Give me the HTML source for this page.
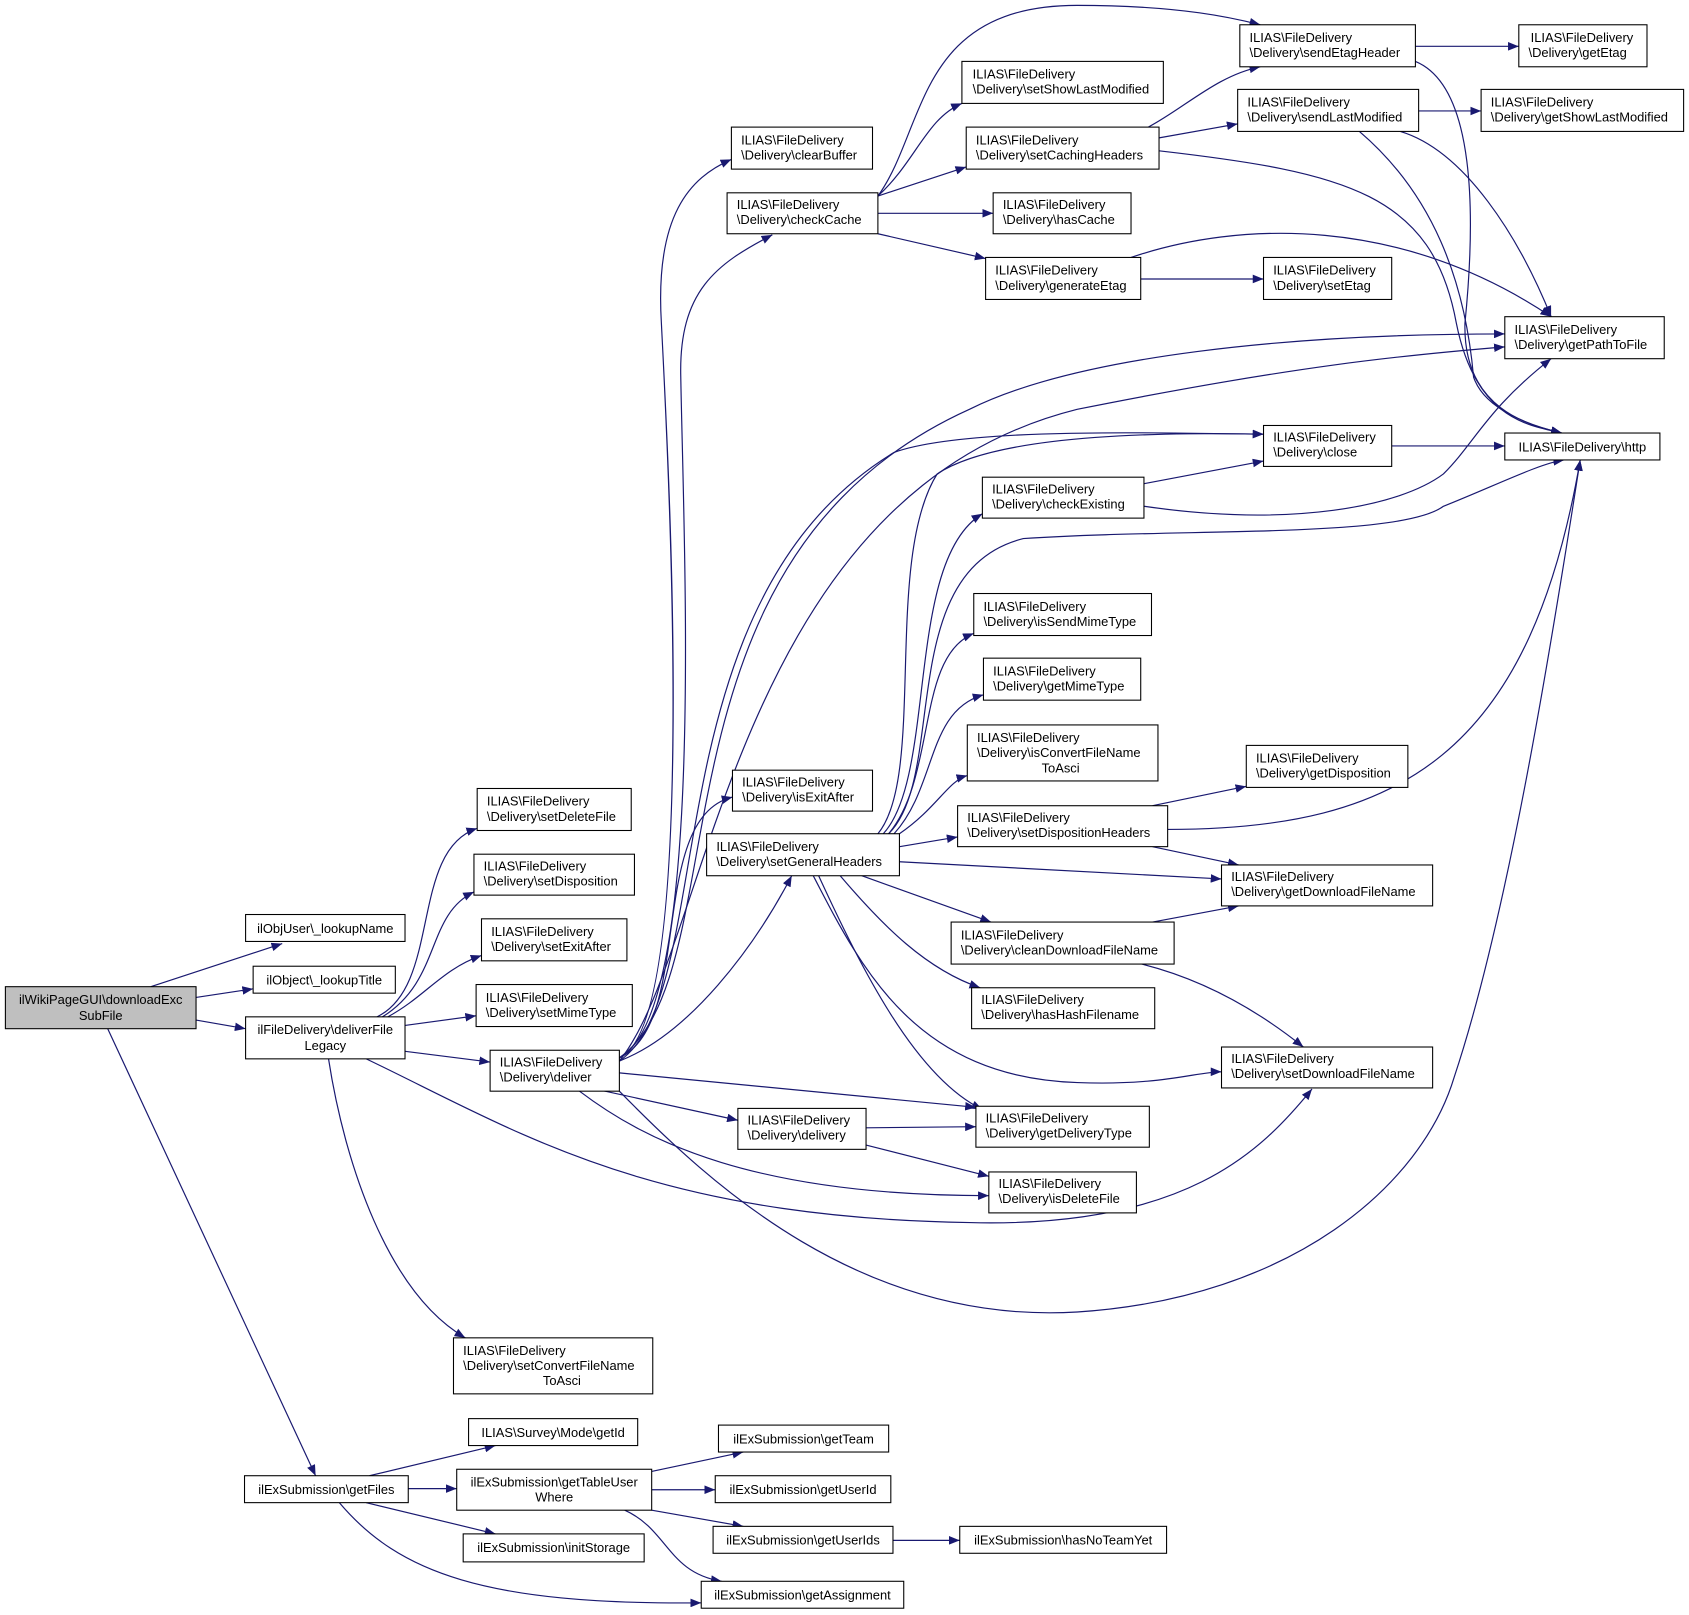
<!DOCTYPE html>
<html><head><meta charset="utf-8"><style>
html,body{margin:0;padding:0;background:#fff;}
svg{display:block;}
text{font-family:"Liberation Sans",Arial,sans-serif;font-size:12px;fill:#000;}
.n{fill:#fff;stroke:#000;stroke-width:1;}
.e{fill:none;stroke:#191970;stroke-width:1.1;marker-end:url(#a);}
</style></head><body>
<svg width="1689" height="1615" viewBox="0 0 1568 1499.3" xmlns="http://www.w3.org/2000/svg">
<defs><marker id="a" markerUnits="userSpaceOnUse" markerWidth="11" markerHeight="8" refX="10" refY="4" orient="auto"><polygon points="0,0 10,4 0,8" fill="#191970"/></marker></defs>
<rect width="1568" height="1500" fill="#fff"/>
<g>
<path class="e" d="M140,916 L262,876"/>
<path class="e" d="M182,926 L235,918"/>
<path class="e" d="M182,947 L228,955"/>
<path class="e" d="M100,955 L293,1370"/>
<path class="e" d="M350,944 C410,915 380,790 443,769"/>
<path class="e" d="M355,944 C410,910 395,850 440,828"/>
<path class="e" d="M360,944 C395,925 410,900 447,887"/>
<path class="e" d="M376,952 L442,943"/>
<path class="e" d="M376,976 L455,986"/>
<path class="e" d="M305,983 C320,1080 360,1200 432,1242"/>
<path class="e" d="M340,983 C480,1050 600,1130 900,1135 C1100,1140 1170,1070 1218,1011"/>
<path class="e" d="M575,982 C650,950 620,420 614,300 C608,200 640,165 679,148"/>
<path class="e" d="M575,982 C655,940 635,520 632,350 C630,270 665,245 717,218"/>
<path class="e" d="M575,982 C690,900 590,520 900,380 C1000,330 1200,310 1397,310"/>
<path class="e" d="M575,985 C660,880 680,460 1000,380 C1200,340 1300,330 1397,322"/>
<path class="e" d="M575,985 C670,920 600,560 830,420 C900,395 1100,403 1173,403"/>
<path class="e" d="M575,982 C645,950 600,760 680,740"/>
<path class="e" d="M575,985 C640,960 700,880 735,813"/>
<path class="e" d="M575,996 L906,1028"/>
<path class="e" d="M548,1010 L685,1040"/>
<path class="e" d="M538,1013 C600,1060 700,1110 918,1110"/>
<path class="e" d="M575,1013 C660,1100 800,1230 1000,1218 C1200,1205 1320,1100 1350,1000 C1400,850 1440,600 1467,427"/>
<path class="e" d="M804,1047 L906,1046"/>
<path class="e" d="M804,1063 L918,1092"/>
<path class="e" d="M815,774 C860,720 820,520 870,440 C930,400 1100,402 1173,403"/>
<path class="e" d="M820,774 C870,720 840,520 912,477"/>
<path class="e" d="M825,774 C880,720 830,530 950,500 C1100,490 1300,500 1340,470 C1390,450 1430,430 1452,427"/>
<path class="e" d="M825,774 C870,720 850,610 904,588"/>
<path class="e" d="M830,774 C870,730 860,660 913,645"/>
<path class="e" d="M835,774 C870,750 880,725 898,720"/>
<path class="e" d="M835,786 L889,777"/>
<path class="e" d="M835,800 L1134,816"/>
<path class="e" d="M800,813 L920,856"/>
<path class="e" d="M780,813 C820,860 860,900 910,917"/>
<path class="e" d="M760,813 C800,900 850,1000 912,1030"/>
<path class="e" d="M755,813 C800,900 850,1000 1000,1005 C1080,1008 1110,995 1134,995"/>
<path class="e" d="M1070,748 L1157,730"/>
<path class="e" d="M1070,786 L1150,803"/>
<path class="e" d="M1084,770 C1300,770 1420,700 1467,427"/>
<path class="e" d="M1070,856 L1150,841"/>
<path class="e" d="M1060,895 C1120,910 1170,940 1210,972"/>
<path class="e" d="M1062,449 L1173,428"/>
<path class="e" d="M1062,470 C1200,490 1300,470 1340,440 C1370,410 1380,380 1440,333"/>
<path class="e" d="M1292,414 L1397,414"/>
<path class="e" d="M815,182 C850,150 860,110 893,96"/>
<path class="e" d="M815,182 L897,155"/>
<path class="e" d="M815,198 L922,198"/>
<path class="e" d="M815,217 L915,240"/>
<path class="e" d="M815,182 C860,120 850,5 1000,5 C1100,5 1150,18 1170,23"/>
<path class="e" d="M1059,259 L1173,259"/>
<path class="e" d="M1050,239 C1150,205 1300,200 1440,294"/>
<path class="e" d="M1066,118 C1100,100 1130,70 1170,62"/>
<path class="e" d="M1076,128 L1149,115"/>
<path class="e" d="M1076,140 C1250,160 1330,180 1352,300 C1370,390 1420,395 1450,402"/>
<path class="e" d="M1314,43 L1410,43"/>
<path class="e" d="M1314,57 C1370,80 1370,200 1360,300 C1358,380 1420,395 1450,402"/>
<path class="e" d="M1317,103 L1375,103"/>
<path class="e" d="M1300,122 C1360,140 1410,220 1440,294"/>
<path class="e" d="M1262,122 C1330,180 1360,260 1368,350 C1378,380 1420,395 1450,402"/>
<path class="e" d="M343,1370 L460,1342"/>
<path class="e" d="M379,1382 L424,1382"/>
<path class="e" d="M340,1395 L460,1424"/>
<path class="e" d="M315,1395 C370,1460 450,1490 651,1488"/>
<path class="e" d="M605,1366 L690,1348"/>
<path class="e" d="M605,1383 L664,1383"/>
<path class="e" d="M605,1402 L690,1417"/>
<path class="e" d="M580,1402 C620,1420 620,1460 670,1468"/>
<path class="e" d="M829,1430 L891,1430"/>
</g>
<g>
<rect x="5" y="916" width="177" height="39" fill="#bfbfbf" stroke="#000"/>
<text x="93.5" y="932" text-anchor="middle">ilWikiPageGUI\downloadExc</text><text x="93.5" y="947" text-anchor="middle">SubFile</text>
<rect class="n" x="228" y="849" width="148" height="25"/><text x="302" y="866" text-anchor="middle">ilObjUser\_lookupName</text>
<rect class="n" x="235" y="897" width="132" height="25"/><text x="301" y="914" text-anchor="middle">ilObject\_lookupTitle</text>
<rect class="n" x="228" y="944" width="148" height="39"/><text x="302" y="960" text-anchor="middle">ilFileDelivery\deliverFile</text><text x="302" y="975" text-anchor="middle">Legacy</text>
<rect class="n" x="227" y="1370" width="152" height="25"/><text x="303" y="1387" text-anchor="middle">ilExSubmission\getFiles</text>
<rect class="n" x="435" y="1317" width="157" height="25"/><text x="513.5" y="1334" text-anchor="middle">ILIAS\Survey\Mode\getId</text>
<rect class="n" x="424" y="1364" width="181" height="38"/><text x="514.5" y="1380" text-anchor="middle">ilExSubmission\getTableUser</text><text x="514.5" y="1394" text-anchor="middle">Where</text>
<rect class="n" x="430" y="1424" width="168" height="26"/><text x="514" y="1441" text-anchor="middle">ilExSubmission\initStorage</text>
<rect class="n" x="651" y="1468" width="188" height="25"/><text x="745" y="1485" text-anchor="middle">ilExSubmission\getAssignment</text>
<rect class="n" x="667" y="1323" width="158" height="25"/><text x="746" y="1340" text-anchor="middle">ilExSubmission\getTeam</text>
<rect class="n" x="664" y="1370" width="163" height="25"/><text x="745.5" y="1387" text-anchor="middle">ilExSubmission\getUserId</text>
<rect class="n" x="662" y="1417" width="167" height="25"/><text x="745.5" y="1434" text-anchor="middle">ilExSubmission\getUserIds</text>
<rect class="n" x="891" y="1417" width="192" height="25"/><text x="987" y="1434" text-anchor="middle">ilExSubmission\hasNoTeamYet</text>
<rect class="n" x="1397" y="402" width="144" height="25"/><text x="1469" y="419" text-anchor="middle">ILIAS\FileDelivery\http</text>
</g>
<g>
<rect class="n" x="443" y="732" width="143" height="39"/><text x="452" y="748">ILIAS\FileDelivery</text><text x="452" y="762">\Delivery\setDeleteFile</text>
<rect class="n" x="440" y="793" width="149" height="38"/><text x="449" y="808">ILIAS\FileDelivery</text><text x="449" y="822">\Delivery\setDisposition</text>
<rect class="n" x="447" y="853" width="135" height="39"/><text x="456" y="869">ILIAS\FileDelivery</text><text x="456" y="883">\Delivery\setExitAfter</text>
<rect class="n" x="442" y="914" width="145" height="39"/><text x="451" y="930">ILIAS\FileDelivery</text><text x="451" y="944">\Delivery\setMimeType</text>
<rect class="n" x="455" y="975" width="120" height="38"/><text x="464" y="990">ILIAS\FileDelivery</text><text x="464" y="1004">\Delivery\deliver</text>
<rect class="n" x="421" y="1242" width="185" height="52"/><text x="430" y="1258">ILIAS\FileDelivery</text><text x="430" y="1272">\Delivery\setConvertFileName</text><text x="504" y="1286">ToAsci</text>
<rect class="n" x="679" y="118" width="131" height="39"/><text x="688" y="134">ILIAS\FileDelivery</text><text x="688" y="148">\Delivery\clearBuffer</text>
<rect class="n" x="675" y="179" width="140" height="38"/><text x="684" y="194">ILIAS\FileDelivery</text><text x="684" y="208">\Delivery\checkCache</text>
<rect class="n" x="680" y="715" width="130" height="38"/><text x="689" y="730">ILIAS\FileDelivery</text><text x="689" y="744">\Delivery\isExitAfter</text>
<rect class="n" x="656" y="774" width="179" height="39"/><text x="665" y="790">ILIAS\FileDelivery</text><text x="665" y="804">\Delivery\setGeneralHeaders</text>
<rect class="n" x="685" y="1029" width="119" height="38"/><text x="694" y="1044">ILIAS\FileDelivery</text><text x="694" y="1058">\Delivery\delivery</text>
<rect class="n" x="893" y="57" width="187" height="39"/><text x="903" y="73">ILIAS\FileDelivery</text><text x="903" y="87">\Delivery\setShowLastModified</text>
<rect class="n" x="897" y="118" width="179" height="39"/><text x="906" y="134">ILIAS\FileDelivery</text><text x="906" y="148">\Delivery\setCachingHeaders</text>
<rect class="n" x="922" y="179" width="128" height="38"/><text x="931" y="194">ILIAS\FileDelivery</text><text x="931" y="208">\Delivery\hasCache</text>
<rect class="n" x="915" y="239" width="144" height="39"/><text x="924" y="255">ILIAS\FileDelivery</text><text x="924" y="269">\Delivery\generateEtag</text>
<rect class="n" x="1151" y="23" width="163" height="39"/><text x="1160" y="39">ILIAS\FileDelivery</text><text x="1160" y="53">\Delivery\sendEtagHeader</text>
<rect class="n" x="1149" y="83" width="168" height="39"/><text x="1158" y="99">ILIAS\FileDelivery</text><text x="1158" y="113">\Delivery\sendLastModified</text>
<rect class="n" x="1410" y="23" width="119" height="39"/><text x="1421" y="39">ILIAS\FileDelivery</text><text x="1419" y="53">\Delivery\getEtag</text>
<rect class="n" x="1375" y="83" width="188" height="39"/><text x="1384" y="99">ILIAS\FileDelivery</text><text x="1384" y="113">\Delivery\getShowLastModified</text>
<rect class="n" x="1173" y="239" width="119" height="39"/><text x="1182" y="255">ILIAS\FileDelivery</text><text x="1182" y="269">\Delivery\setEtag</text>
<rect class="n" x="1397" y="294" width="148" height="39"/><text x="1406" y="310">ILIAS\FileDelivery</text><text x="1406" y="324">\Delivery\getPathToFile</text>
<rect class="n" x="1173" y="395" width="119" height="38"/><text x="1182" y="410">ILIAS\FileDelivery</text><text x="1182" y="424">\Delivery\close</text>
<rect class="n" x="912" y="443" width="150" height="38"/><text x="921" y="458">ILIAS\FileDelivery</text><text x="921" y="472">\Delivery\checkExisting</text>
<rect class="n" x="904" y="551" width="165" height="39"/><text x="913" y="567">ILIAS\FileDelivery</text><text x="913" y="581">\Delivery\isSendMimeType</text>
<rect class="n" x="913" y="611" width="146" height="39"/><text x="922" y="627">ILIAS\FileDelivery</text><text x="922" y="641">\Delivery\getMimeType</text>
<rect class="n" x="898" y="673" width="177" height="52"/><text x="907" y="689">ILIAS\FileDelivery</text><text x="907" y="703">\Delivery\isConvertFileName</text><text x="967" y="717">ToAsci</text>
<rect class="n" x="1157" y="692" width="150" height="39"/><text x="1166" y="708">ILIAS\FileDelivery</text><text x="1166" y="722">\Delivery\getDisposition</text>
<rect class="n" x="889" y="748" width="195" height="38"/><text x="898" y="763">ILIAS\FileDelivery</text><text x="898" y="777">\Delivery\setDispositionHeaders</text>
<rect class="n" x="1134" y="803" width="196" height="38"/><text x="1143" y="818">ILIAS\FileDelivery</text><text x="1143" y="832">\Delivery\getDownloadFileName</text>
<rect class="n" x="883" y="856" width="207" height="39"/><text x="892" y="872">ILIAS\FileDelivery</text><text x="892" y="886">\Delivery\cleanDownloadFileName</text>
<rect class="n" x="902" y="917" width="170" height="38"/><text x="911" y="932">ILIAS\FileDelivery</text><text x="911" y="946">\Delivery\hasHashFilename</text>
<rect class="n" x="1134" y="972" width="196" height="38"/><text x="1143" y="987">ILIAS\FileDelivery</text><text x="1143" y="1001">\Delivery\setDownloadFileName</text>
<rect class="n" x="906" y="1027" width="161" height="38"/><text x="915" y="1042">ILIAS\FileDelivery</text><text x="915" y="1056">\Delivery\getDeliveryType</text>
<rect class="n" x="918" y="1088" width="137" height="38"/><text x="927" y="1103">ILIAS\FileDelivery</text><text x="927" y="1117">\Delivery\isDeleteFile</text>
</g>
</svg>
</body></html>
